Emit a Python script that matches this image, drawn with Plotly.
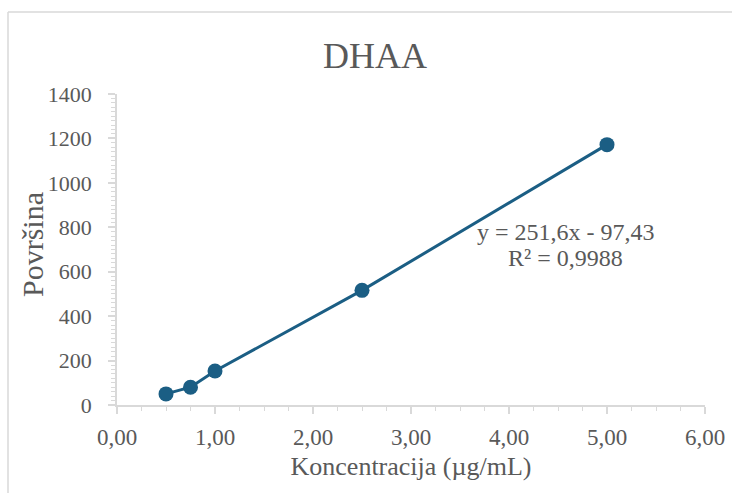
import plotly.graph_objects as go

# Data
konc = [0.5, 0.75, 1.0, 2.5, 5.0]
povrsina = [50, 80, 153, 516, 1172]
title_text = "DHAA"
x_title = "Koncentracija (µg/mL)"
y_title = "Površina"
eq_line1 = "y = 251,6x - 97,43"
eq_line2 = "R² = 0,9988"
x_ticks = [0, 1, 2, 3, 4, 5, 6]
y_ticks = [0, 200, 400, 600, 800, 1000, 1200, 1400]

COL = "#1b5e84"
TXT = "#595959"
AX = "#d9d9d9"
FONT = "Liberation Serif"

W, H = 732, 493
L, T = 117, 94
R = W - 705
B = H - 405
pw = W - L - R
ph = H - T - B


def px_x(p):
    return (p - L) / pw


def px_y(p):
    return (H - B - p) / ph


fig = go.Figure()
fig.add_trace(go.Scatter(
    x=konc, y=povrsina, mode="lines+markers",
    line=dict(color=COL, width=3),
    marker=dict(color=COL, size=15),
    showlegend=False, cliponaxis=False,
))

fig.update_layout(
    width=W, height=H, autosize=False,
    margin=dict(l=L, r=R, t=T, b=B, autoexpand=False),
    paper_bgcolor="white", plot_bgcolor="white",
    separators=",.",
    font=dict(family=FONT, color=TXT),
    title=dict(text=title_text, x=375 / W, xanchor="center",
               y=1 - 55 / H, yanchor="middle",
               font=dict(size=36, color=TXT, family=FONT)),
    xaxis=dict(
        range=[0, 6], tickvals=x_ticks, tickformat=".2f", automargin=False,
        showline=True, linecolor=AX, linewidth=1.5,
        ticks="outside", ticklen=7, tickcolor=AX, tickwidth=1.5,
        minor=dict(dtick=0.25, ticks="outside", ticklen=4, tickcolor=AX, tickwidth=1),
        showgrid=False, zeroline=False,
        tickfont=dict(size=23, color=TXT, family=FONT),
        ticklabelstandoff=4,
        title=dict(text=x_title, font=dict(size=26, color=TXT, family=FONT), standoff=7),
    ),
    yaxis=dict(
        range=[0, 1400], tickvals=y_ticks, tickformat="d", automargin=False,
        showline=True, linecolor=AX, linewidth=1.5,
        ticks="outside", ticklen=7, tickcolor=AX, tickwidth=1.5,
        minor=dict(dtick=20, ticks="outside", ticklen=4, tickcolor=AX, tickwidth=1),
        showgrid=False, zeroline=False,
        tickfont=dict(size=22, color=TXT, family=FONT),
        ticklabelstandoff=12,
    ),
    annotations=[
        dict(x=4.58, y=778, xref="x", yref="y", text=eq_line1, showarrow=False,
             xanchor="center", yanchor="middle",
             font=dict(size=24, color=TXT, family=FONT)),
        dict(x=4.58, y=662, xref="x", yref="y", text=eq_line2, showarrow=False,
             xanchor="center", yanchor="middle",
             font=dict(size=24, color=TXT, family=FONT)),
        dict(x=px_x(32), y=px_y(245), xref="paper", yref="paper", text=y_title,
             showarrow=False, textangle=-90, xanchor="center", yanchor="middle",
             font=dict(size=30, color=TXT, family=FONT)),
    ],
    shapes=[
        dict(type="line", xref="paper", yref="paper",
             x0=px_x(8), x1=px_x(8), y0=px_y(12), y1=px_y(H + 10),
             line=dict(color=AX, width=1.5), layer="below"),
        dict(type="line", xref="paper", yref="paper",
             x0=px_x(8), x1=px_x(W + 10), y0=px_y(12), y1=px_y(12),
             line=dict(color=AX, width=1.5), layer="below"),
    ],
)

fig.write_html(
    "out.html",
    config={"displayModeBar": False},
    post_script="document.body.style.margin='0';document.body.style.overflow='hidden';",
)
